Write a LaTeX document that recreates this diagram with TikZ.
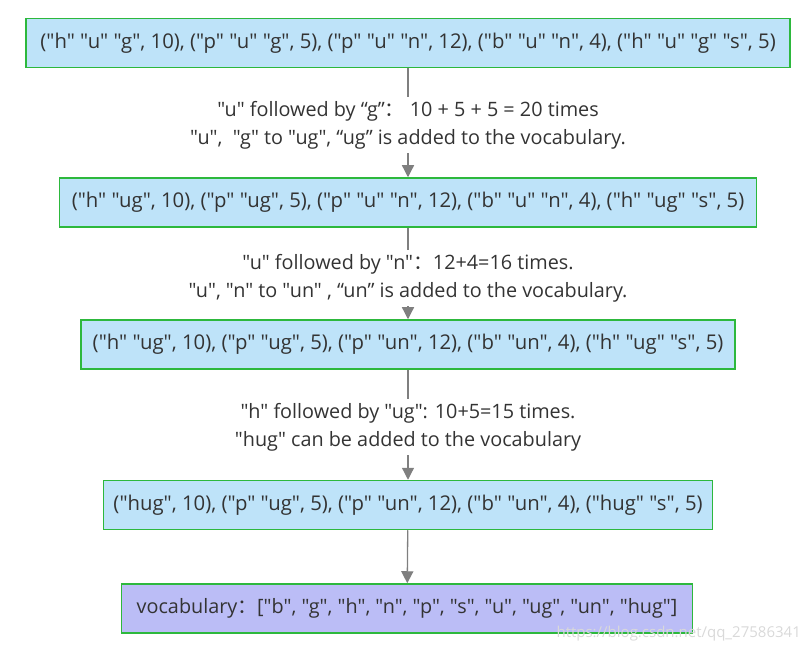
\documentclass[tikz,border=0pt]{standalone}
\usepackage{fontspec}
\setmainfont{Open Sans}[Ligatures=TeXOff]
\newfontfamily\cjk{Noto Sans CJK SC}
\usetikzlibrary{arrows.meta}
\definecolor{boxblue}{HTML}{BEE3F9}
\definecolor{boxgreen}{HTML}{2DB83D}
\definecolor{boxlav}{HTML}{BBBDF6}
\definecolor{txt}{HTML}{333333}
\definecolor{conn}{HTML}{7F7F7F}
\newcommand{\fc}{{\cjk ：}}
\tikzset{
  stepbox/.style={draw=boxgreen, line width=1.5pt, fill=boxblue, text=txt,
    inner sep=0pt, minimum height=49pt, font=\fontsize{20.3}{24}\selectfont},
  vocbox/.style={stepbox, fill=boxlav, font=\fontsize{19.8}{24}\selectfont},
  explain/.style={text=txt, align=center, inner xsep=0pt, inner ysep=4pt,
    font=\fontsize{19.8}{28}\selectfont},
  plain/.style={draw=conn, line width=1.3pt},
  arr/.style={plain, -{Triangle[width=12pt,length=12pt]}},
}
\begin{document}
\begin{tikzpicture}[x=1pt,y=-1pt]
\useasboundingbox (0,0) rectangle (809,652);
\node[stepbox, minimum width=764pt] (b1) at (408,43)
  {("h" "u" "g", 10), ("p" "u" "g", 5), ("p" "u" "n", 12), ("b" "u" "n", 4), ("h" "u" "g" "s", 5)};
\node[explain] (l1) at (408,125)
  {"u" followed by “g”\fc\ 10 + 5 + 5 = 20 times\\
   "u",\ \ "g" to "ug", “ug” is added to the vocabulary.};
\node[stepbox, minimum width=697pt] (b2) at (408,202.5)
  {("h" "ug", 10), ("p" "ug", 5), ("p" "u" "n", 12), ("b" "u" "n", 4), ("h" "ug" "s", 5)};
\node[explain] (l2) at (408,278)
  {"u" followed by "n"\fc 12+4=16 times.\\
   "u", "n" to "un" , “un” is added to the vocabulary.};
\node[stepbox, minimum width=654pt] (b3) at (408,344.5)
  {("h" "ug", 10), ("p" "ug", 5), ("p" "un", 12), ("b" "un", 4), ("h" "ug" "s", 5)};
\node[explain] (l3) at (408,427)
  {"h" followed by "ug": 10+5=15 times.\\
   "hug" can be added to the vocabulary};
\node[stepbox, minimum width=609pt] (b4) at (408,505)
  {("hug", 10), ("p" "ug", 5), ("p" "un", 12), ("b" "un", 4), ("hug" "s", 5)};
\node[vocbox, minimum width=571pt] (b5) at (407,608.5)
  {vocabulary\fc ["b", "g", "h", "n", "p", "s", "u", "ug", "un", "hug"]};
\node[text=gray!30, font=\fontsize{15}{17}\selectfont, anchor=east, inner sep=0pt] (wm) at (801,634)
  {https://blog.csdn.net/qq\_27586341};
\draw[plain] (b1) -- (l1);
\draw[arr] (l1) -- (b2);
\draw[plain] (b2) -- (l2);
\draw[arr] (l2) -- (b3);
\draw[plain] (b3) -- (l3);
\draw[arr] (l3) -- (b4);
\draw[arr] (b4) -- (b5);
\end{tikzpicture}
\end{document}
